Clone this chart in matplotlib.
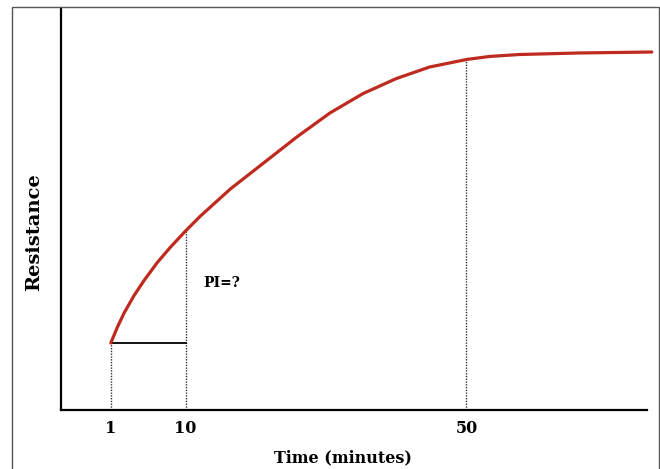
import numpy as np
import matplotlib.pyplot as plt
from matplotlib.patches import Rectangle

# schematic data: time in minutes, resistance in relative units (0-100)
curve_time = [1, 1.80, 2.60, 3.80, 5.00, 6.60, 8.20, 10, 12.13, 16.38, 21.11, 25.84,
              30.57, 35.29, 40.03, 44.75, 50, 53.26, 57.52, 66.03, 76.38]
curve_resistance = [16.67, 20.65, 24.13, 28.48, 32.21, 36.69, 40.55, 44.53, 48.26, 54.98,
                    61.44, 67.91, 73.9, 78.73, 82.46, 85.32, 87.19, 87.94, 88.43, 88.81, 89.05]
tick_times = [1, 10, 50]
tick_labels = ["1", "10", "50"]

# hand-drawn axis is not quite linear: piecewise mapping through the tick anchors
anchor_t = [-5, 1, 10, 50, 80]
anchor_pos = [60, 110, 185, 467, 678.5]


def fwd(t):
    return np.interp(t, anchor_t, anchor_pos)


def inv(p):
    return np.interp(p, anchor_pos, anchor_t)


plt.rcParams["font.family"] = ["DejaVu Serif"]
plt.rcParams["font.weight"] = "bold"

fig = plt.figure(figsize=(6.6, 4.69), dpi=100)
ax = fig.add_axes([61 / 660, 1 - 410 / 469, (647 - 61) / 660, (410 - 8) / 469])
ax.set_xscale("function", functions=(fwd, inv))
ax.set_xlim(-5, 75.7)
ax.set_ylim(0, 100)

red = "#bf2a1f"
ax.plot(curve_time, curve_resistance, color=red, lw=2.3, solid_capstyle="round",
        solid_joinstyle="round", clip_on=False, zorder=3)

# dotted drop lines from the curve to the axis
for t in tick_times:
    r = np.interp(t, curve_time, curve_resistance)
    ax.plot([t, t], [0, r], color="#333333", lw=1.0, ls=(0, (1, 1)), zorder=2)

# baseline segment from 1 to 10 min
r1 = curve_resistance[0]
ax.plot([tick_times[0], tick_times[1]], [r1, r1], color="black", lw=1.3, zorder=2)

ax.text(12.55, 31.6, "PI=?", fontsize=10, fontweight="bold", ha="left", va="center")

for s in ["top", "right"]:
    ax.spines[s].set_visible(False)
for s in ["left", "bottom"]:
    ax.spines[s].set_linewidth(1.6)
    ax.spines[s].set_color("black")

ax.set_xticks(tick_times)
ax.set_xticklabels(tick_labels, fontsize=11.5, fontweight="bold")
ax.tick_params(axis="x", length=0, pad=7)
ax.set_yticks([])
ax.set_xlabel("Time (minutes)", fontsize=11.5, fontweight="bold")
ax.xaxis.set_label_coords(0.481, -0.098)
ax.set_ylabel("Resistance", fontsize=14, fontweight="bold")
ax.yaxis.set_label_coords(-0.031, 0.443)

# thin frame around the whole figure
fig.patches.append(Rectangle((12 / 660, -0.05), (659 - 12) / 660, 1 - 7 / 469 + 0.05,
                             transform=fig.transFigure, fill=False, ec="#555555", lw=1.0))

fig.savefig("out.png", dpi=100)
